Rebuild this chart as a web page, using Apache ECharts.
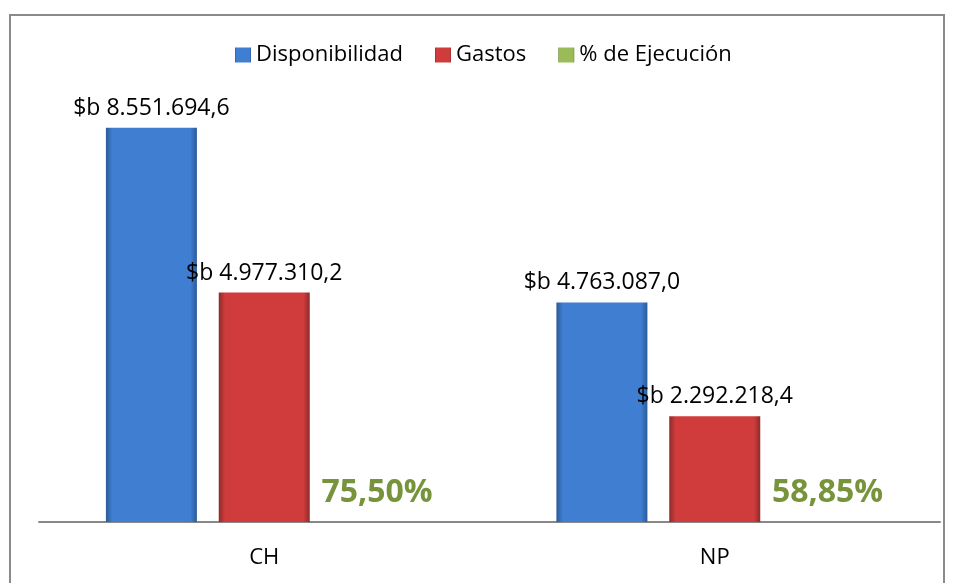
<!DOCTYPE html>
<html>
<head>
    <meta charset="utf-8">
    <style>
        html, body {
            height: 100%;
        }

        * {
            margin: 0;
            padding: 0;
        }

        #container {
            width: 954px;
            height: 583px;
        }
    </style>
</head>
<body>
<div id="container"></div>
<script type="text/javascript" src="https://cdn.jsdelivr.net/npm/echarts/dist/echarts.min.js"></script>
<script type="text/javascript">
    let dom = document.getElementById("container");
    let myChart = echarts.init(dom);

    // datos
    let categorias = ['CH', 'NP'];
    let disponibilidad = [8551694.6, 4763087.0];
    let gastos = [4977310.2, 2292218.4];
    let ejecucion = [75.50, 58.85];
    let nombres = ['Disponibilidad', 'Gastos', '% de Ejecución'];

    let fuente = '"Open Sans", "Noto Sans", sans-serif';

    function montoBs(v) {
        let partes = v.toFixed(1).split('.');
        let entero = partes[0].replace(/\B(?=(\d{3})+(?!\d))/g, '.');
        return '$b ' + entero + ',' + partes[1];
    }

    function degradado(borde, centro) {
        return new echarts.graphic.LinearGradient(0, 0, 1, 0, [
            {offset: 0, color: borde},
            {offset: 0.07, color: centro},
            {offset: 0.93, color: centro},
            {offset: 1, color: borde}
        ]);
    }

    let etiquetaMonto = {
        show: true,
        position: 'top',
        distance: 8,
        color: '#000',
        fontSize: 23,
        fontFamily: fuente,
        formatter: function (p) {
            return montoBs(p.value);
        }
    };

    let option = {
        animation: false,
        backgroundColor: '#fff',
        graphic: [{
            type: 'rect',
            shape: {x: 10, y: 15, width: 934, height: 600},
            style: {fill: 'none', stroke: '#8a8a8a', lineWidth: 2},
            silent: true
        }],
        legend: {
            top: 39,
            left: 230,
            icon: 'rect',
            itemWidth: 16,
            itemHeight: 15,
            itemGap: 32,
            textStyle: {fontSize: 22, fontFamily: fuente, color: '#000'},
            data: nombres
        },
        grid: {
            left: 39,
            right: 14,
            top: 61,
            bottom: 61
        },
        xAxis: {
            type: 'category',
            data: categorias,
            axisLine: {lineStyle: {color: '#888', width: 2}},
            axisTick: {show: false},
            axisLabel: {fontSize: 22, fontFamily: fuente, color: '#000', margin: 25}
        },
        yAxis: {
            type: 'value',
            show: false,
            min: 0,
            max: 10000000
        },
        series: [{
            name: nombres[0],
            type: 'bar',
            barGap: '24%',
            barCategoryGap: '29.7%',
            data: disponibilidad,
            itemStyle: {color: degradado('#2c5a97', '#3f7ed0')},
            label: etiquetaMonto
        }, {
            name: nombres[1],
            type: 'bar',
            data: gastos,
            itemStyle: {color: degradado('#8e2a2a', '#d03c3c')},
            label: etiquetaMonto
        }, {
            name: nombres[2],
            type: 'bar',
            data: ejecucion,
            itemStyle: {color: degradado('#6b8534', '#9bbb59')},
            label: {
                show: true,
                position: 'top',
                distance: 13,
                color: '#77933c',
                fontSize: 32,
                fontWeight: 'bold',
                fontFamily: fuente,
                formatter: function (p) {
                    return p.value.toFixed(2).replace('.', ',') + '%';
                }
            }
        }]
    };
    myChart.setOption(option, true);
</script>
</body>
</html>
